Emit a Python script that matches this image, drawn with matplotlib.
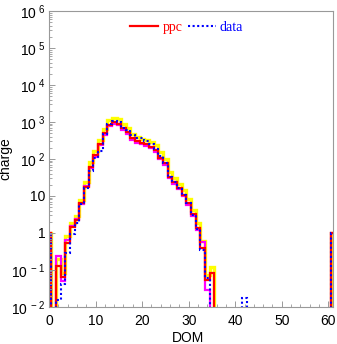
import matplotlib
matplotlib.use("Agg")
import matplotlib.pyplot as plt
import numpy as np
from matplotlib.ticker import FixedLocator, FuncFormatter, MultipleLocator, LogLocator, NullFormatter

plt.rcParams["font.family"] = ["Liberation Sans", "DejaVu Sans"]
plt.rcParams["mathtext.fontset"] = "custom"
plt.rcParams["mathtext.rm"] = "Liberation Sans"
plt.rcParams["mathtext.it"] = "Liberation Sans"

# charge per DOM, bins centred on integers 0..61 (61 = the spike at the right edge)
dom = np.arange(0, 62)

ppc = np.zeros(62)
ppc[:36] = [1, 0, 0.13, 0.065, 0.52, 1.4, 2.2, 6.3, 17, 60,
            125, 250, 490, 830, 980, 900, 680, 520, 360, 295,
            265, 245, 210, 170, 108, 76, 33, 23, 16, 10.5,
            6.3, 3.2, 1.35, 0.39, 0.054, 0.08]
ppc[61] = 1

ppc_up = np.zeros(62)
ppc_up[:36] = [1, 0, 0.2, 0.08, 0.8, 1.8, 2.8, 7.5, 24, 80,
               160, 320, 650, 1100, 1300, 1200, 900, 680, 470, 390,
               350, 320, 285, 230, 150, 100, 45, 31, 21, 14,
               8.3, 4.2, 1.8, 0.6, 0.07, 0.12]
ppc_up[61] = 1

ppc_alt = np.zeros(62)
ppc_alt[:36] = [1, 0, 0.23, 0.05, 0.65, 1.5, 2.3, 6.0, 18, 55,
                115, 230, 450, 780, 900, 830, 620, 470, 330, 270,
                245, 225, 195, 158, 100, 70, 30, 21, 15, 9.8,
                5.8, 2.9, 1.2, 0.58, 0.029, 0]
ppc_alt[61] = 1

data = np.zeros(62)
data[:36] = [1, 0, 0.015, 0.04, 0.29, 0.9, 1.85, 6.0, 16, 48,
             105, 160, 470, 900, 1080, 1000, 700, 600, 430, 360,
             370, 310, 250, 185, 120, 76, 33, 23, 16, 10.5,
             6.2, 3.1, 1.3, 0.35, 0.06, 0]
data[42] = 0.017
data[61] = 1

edges = np.append(dom - 0.5, dom[-1] + 0.5)

fig = plt.figure(figsize=(3.37, 3.44), dpi=100)
ax = fig.add_axes([49 / 337, 1 - 306.7 / 344, 284 / 337, 295.7 / 344])
ax.set_yscale("log")

ax.stairs(ppc_up, edges, color="#ffff00", linewidth=2.4, baseline=None)
ax.stairs(ppc_alt, edges, color="#ff00ff", linewidth=1.6, baseline=None)
ax.stairs(ppc, edges, color="#ff0000", linewidth=1.6, baseline=None, label="ppc")
ax.stairs(data, edges, color="#0000ff", linewidth=1.5, linestyle=(0, (1, 1.2)),
          baseline=None, label="data")

ax.set_xlim(0, 61)
ax.set_ylim(1e-2, 1e6)


def _fmt(v, pos):
    e = int(round(np.log10(v)))
    if e == 0:
        return "1"
    if e == 1:
        return "10"
    return r"$\mathregular{10^{\ %d}}$" % e


ax.yaxis.set_major_locator(FixedLocator([10.0 ** e for e in range(-2, 7)]))
ax.yaxis.set_major_formatter(FuncFormatter(_fmt))
ax.yaxis.set_minor_locator(LogLocator(base=10, subs=np.arange(2, 10), numticks=20))
ax.yaxis.set_minor_formatter(NullFormatter())
ax.xaxis.set_major_locator(MultipleLocator(10))
ax.xaxis.set_minor_locator(MultipleLocator(2))

frame = "#999999"
for s in ax.spines.values():
    s.set_color(frame)
    s.set_linewidth(0.8)
ax.tick_params(which="both", direction="in", color=frame, labelsize=10, top=False, right=False)
ax.tick_params(which="major", length=4.5, width=0.7)
ax.tick_params(which="minor", length=2.2, width=0.6)
ax.tick_params(axis="x", pad=5)
ax.tick_params(axis="y", pad=2.5)

ax.set_xlabel("DOM", fontsize=10)
ax.xaxis.set_label_coords(0.49, -0.083)
ax.set_ylabel("charge", fontsize=10)
ax.yaxis.set_label_coords(-0.128, 0.5)

leg = ax.legend(loc="upper center", bbox_to_anchor=(0.485, 1.0), ncol=2, frameon=False,
                prop={"family": "Liberation Serif", "size": 10}, handlelength=2.0,
                handletextpad=0.3, columnspacing=0.4, borderaxespad=0.3)
for txt, col in zip(leg.get_texts(), ["#ff0000", "#0000ff"]):
    txt.set_color(col)

fig.savefig("out.png", dpi=100)
